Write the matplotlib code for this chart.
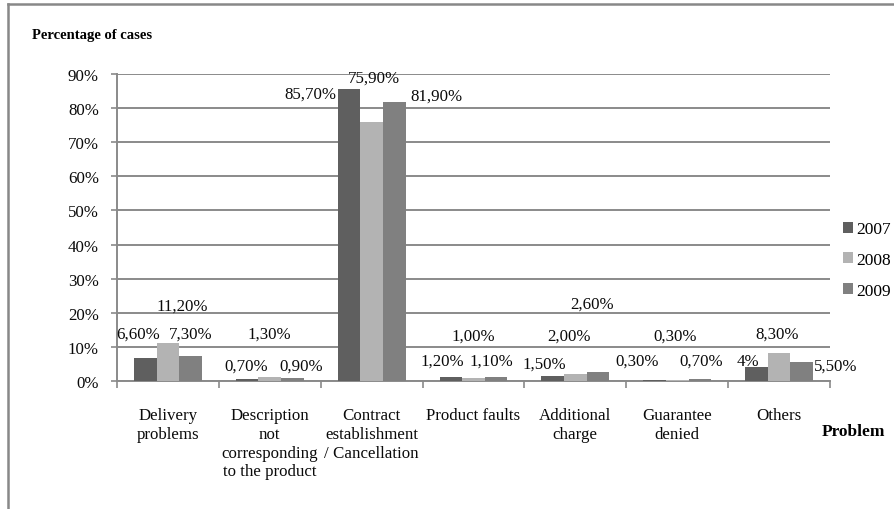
import matplotlib
matplotlib.use("Agg")
import matplotlib.pyplot as plt
from matplotlib.lines import Line2D
import numpy as np

plt.rcParams['font.family'] = ['Liberation Serif', 'DejaVu Serif']

# Problem categories and yearly shares (% of cases)
categories = ['Delivery\nproblems',
              'Description\nnot\ncorresponding\nto the product',
              'Contract\nestablishment\n/ Cancellation',
              'Product faults',
              'Additional\ncharge',
              'Guarantee\ndenied',
              'Others']
years = ['2007', '2008', '2009']
pct_2007 = [6.6, 0.7, 85.7, 1.2, 1.5, 0.3, 4]
pct_2008 = [11.2, 1.3, 75.9, 1.0, 2.0, 0.3, 8.3]
pct_2009 = [7.3, 0.9, 81.9, 1.1, 2.6, 0.7, 5.5]
y_ticks = [0, 10, 20, 30, 40, 50, 60, 70, 80, 90]

# colours of the three series
bar_colors = ['#5f5f5f', '#b3b3b3', '#808080']
grid_color = '#8a8a8a'

# hand-placed value labels: (x offset from group centre, y in %) per year
label_pos = [
    [(-0.29, 13.8), (0.14, 22.0), (0.22, 13.8)],
    [(-0.23, 4.4), (0.00, 13.8), (0.31, 4.4)],
    [(-0.60, 84.1), (0.02, 88.8), (0.64, 83.6)],
    [(-0.31, 5.9), (0.00, 13.2), (0.18, 5.9)],
    [(-0.30, 5.0), (-0.06, 13.2), (0.16, 22.6)],
    [(-0.39, 5.9), (-0.02, 13.2), (0.24, 5.9)],
    [(-0.31, 5.9), (-0.02, 13.8), (0.56, 4.4)],
]


def fmt_pct(v):
    # whole numbers stored as int keep no decimals
    if isinstance(v, int):
        return '%d%%' % v
    return ('%.2f%%' % v).replace('.', ',')


fs = 12.2
txt_color = '#0a0a0a'

fig = plt.figure(figsize=(8.94, 5.10), dpi=100)
ax = fig.add_axes([117 / 894, 128 / 510, 713 / 894, 307 / 510])

x = np.arange(len(categories))
width = 0.222
series = [pct_2007, pct_2008, pct_2009]
handles = []
for k, (vals, col, yr) in enumerate(zip(series, bar_colors, years)):
    b = ax.bar(x + (k - 1) * width, vals, width, color=col, label=yr,
               zorder=3, linewidth=0)
    handles.append(b)
    for i, v in enumerate(vals):
        dx, ly = label_pos[i][k]
        ax.text(i + dx, ly, fmt_pct(v), ha='center', va='center',
                fontsize=fs, color=txt_color, zorder=4)

ax.set_xlim(-0.5, len(categories) - 0.5)
ax.set_ylim(0, 90)
ax.set_yticks(y_ticks)
ax.set_yticklabels(['%d%%' % t for t in y_ticks], fontsize=fs,
                   color=txt_color)
ax.yaxis.grid(True, color=grid_color, linewidth=1.4, zorder=0)
ax.set_axisbelow(True)

# category boundaries carry the tick marks, labels sit at the centres
ax.set_xticks(np.arange(len(categories) + 1) - 0.5)
ax.set_xticklabels([])
ax.set_xticks(x, minor=True)
ax.set_xticklabels(categories, minor=True, fontsize=fs, linespacing=1.22,
                   va='top', color=txt_color)
ax.tick_params(axis='x', which='major', length=5, color=grid_color, width=1.2)
ax.tick_params(axis='x', which='minor', length=0, pad=19)
ax.tick_params(axis='y', length=4, color=grid_color, width=1.2, pad=9)

for side in ['top', 'right']:
    ax.spines[side].set_visible(False)
for side in ['left', 'bottom']:
    ax.spines[side].set_color(grid_color)
    ax.spines[side].set_linewidth(1.4)

fig.text(32 / 894, 1 - 35 / 510, 'Percentage of cases', fontsize=10.5,
         fontweight='bold', ha='left', va='center')
fig.text(822 / 894, 1 - 432 / 510, 'Problem', fontsize=12.5,
         fontweight='bold', ha='left', va='center')

fig.legend(handles=handles, labels=years, loc='center left',
           bbox_to_anchor=(843 / 894, 1 - 261 / 510), frameon=False,
           fontsize=12.5, handlelength=0.6, handleheight=0.6,
           handletextpad=0.15, labelspacing=0.85, borderpad=0,
           borderaxespad=0)

# outer chart frame (only the top and left edges fall inside the image)
fig.add_artist(Line2D([8 / 894, 1], [1 - 5 / 510, 1 - 5 / 510],
                      transform=fig.transFigure, color='#888888', lw=1.8))
fig.add_artist(Line2D([8 / 894, 8 / 894], [0, 1 - 5 / 510],
                      transform=fig.transFigure, color='#888888', lw=1.8))

fig.savefig('out.png', dpi=100, facecolor='white')
